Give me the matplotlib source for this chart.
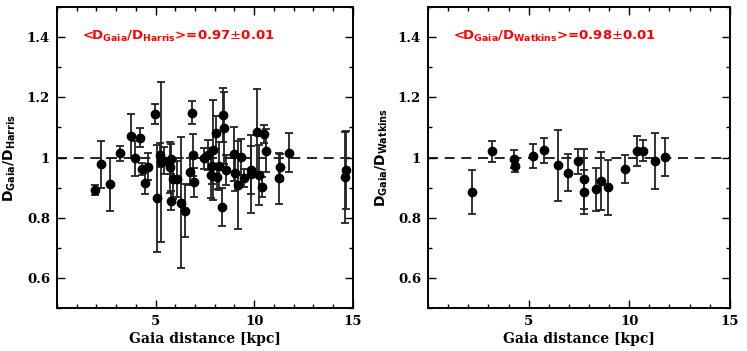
import matplotlib
matplotlib.use("Agg")
import matplotlib.pyplot as plt
from matplotlib.ticker import MultipleLocator, FormatStrFormatter

# Left panel: Gaia vs Harris
harris_x = [1.92, 2.22, 2.71, 3.22, 3.74, 3.96, 4.23, 4.31, 4.46, 4.61,
            4.98, 5.07, 5.24, 5.27, 5.44, 5.71, 5.77, 5.77, 5.88, 6.08,
            6.28, 6.47, 6.75, 6.92, 6.95, 6.87, 7.46, 7.68, 7.81, 7.88,
            7.90, 8.07, 8.13, 8.22, 8.35, 8.42, 8.45, 8.57, 8.97, 9.02,
            9.16, 9.31, 9.48, 9.82, 9.85, 10.15, 10.25, 10.37, 10.50, 10.59,
            11.25, 11.30, 11.77, 14.58, 14.67]
harris_y = [0.892, 0.977, 0.912, 1.014, 1.073, 0.997, 1.066, 0.962, 0.914, 0.970,
            1.144, 0.865, 1.008, 0.986, 0.990, 0.967, 0.994, 0.857, 0.928, 0.928,
            0.850, 0.824, 0.953, 1.008, 0.918, 1.149, 0.997, 1.008, 0.942, 0.972,
            1.025, 1.082, 0.934, 0.972, 0.837, 1.141, 1.097, 0.958, 1.012, 0.950,
            0.909, 1.003, 0.931, 0.958, 0.945, 1.086, 0.942, 0.903, 1.078, 1.023,
            0.931, 0.967, 1.016, 0.934, 0.958]
harris_err = [0.017, 0.077, 0.088, 0.025, 0.073, 0.057, 0.031, 0.020, 0.036, 0.045,
              0.032, 0.177, 0.040, 0.265, 0.045, 0.085, 0.050, 0.032, 0.065, 0.060,
              0.217, 0.088, 0.045, 0.069, 0.048, 0.037, 0.035, 0.050, 0.075, 0.060,
              0.167, 0.055, 0.040, 0.080, 0.063, 0.090, 0.120, 0.050, 0.090, 0.060,
              0.146, 0.060, 0.030, 0.080, 0.130, 0.140, 0.100, 0.033, 0.030, 0.070,
              0.085, 0.045, 0.064, 0.150, 0.130]

# Right panel: Gaia vs Watkins
watkins_x = [2.21, 3.20, 4.26, 4.31, 5.22, 5.78, 6.47, 6.95, 7.46, 7.77,
             7.74, 8.35, 8.58, 8.96, 9.80, 10.40, 10.66, 11.26, 11.78]
watkins_y = [0.885, 1.020, 0.995, 0.972, 1.004, 1.024, 0.974, 0.950, 0.987, 0.928,
             0.885, 0.894, 0.922, 0.901, 0.961, 1.023, 1.023, 0.987, 1.002]
watkins_err = [0.072, 0.034, 0.030, 0.020, 0.040, 0.041, 0.117, 0.062, 0.042, 0.100,
               0.073, 0.072, 0.096, 0.091, 0.046, 0.050, 0.035, 0.093, 0.064]

x_label = "Gaia distance [kpc]"
y_labels = [r"$\mathbf{D_{Gaia}/D_{Harris}}$", r"$\mathbf{D_{Gaia}/D_{Watkins}}$"]
notes = [r"<D$_{\mathbf{Gaia}}$/D$_{\mathbf{Harris}}$>=0.97$\pm$0.01",
         r"<D$_{\mathbf{Gaia}}$/D$_{\mathbf{Watkins}}$>=0.98$\pm$0.01"]

fig = plt.figure(figsize=(7.47, 3.51), dpi=100)
ax1 = fig.add_axes([0.0763, 0.1217, 0.396, 0.859])
ax2 = fig.add_axes([0.573, 0.1217, 0.404, 0.859])

datasets = [(harris_x, harris_y, harris_err), (watkins_x, watkins_y, watkins_err)]
for ax, (xs, ys, es), yl, note in zip([ax1, ax2], datasets, y_labels, notes):
    ax.axhline(1.0, color="black", lw=1.2, ls=(0, (6, 4)), zorder=1)
    ax.errorbar(xs, ys, yerr=es, fmt="o", color="black", ms=6,
                ecolor="#222222", elinewidth=1.3, capsize=3.2, capthick=1.3, zorder=3)
    ax.set_xlim(0, 15)
    ax.set_ylim(0.5, 1.5)
    ax.xaxis.set_major_locator(MultipleLocator(5))
    ax.xaxis.set_minor_locator(MultipleLocator(1))
    ax.yaxis.set_major_locator(MultipleLocator(0.2))
    ax.yaxis.set_minor_locator(MultipleLocator(0.1))
    ax.xaxis.set_major_formatter(FormatStrFormatter("%g"))
    ax.yaxis.set_major_formatter(FormatStrFormatter("%g"))
    ax.set_xticks([5, 10, 15])
    ax.set_yticks([0.6, 0.8, 1.0, 1.2, 1.4])
    ax.tick_params(which="both", direction="in", top=True, right=True, width=1.0)
    ax.tick_params(which="major", length=6, labelsize=9.5, pad=5)
    ax.tick_params(which="minor", length=3)
    for lab in ax.get_xticklabels() + ax.get_yticklabels():
        lab.set_fontweight("bold")
        lab.set_family("DejaVu Serif")
    for sp in ax.spines.values():
        sp.set_linewidth(1.4)
    ax.set_xlabel(x_label, fontsize=10, fontweight="bold", family="DejaVu Serif", labelpad=3)
    ax.set_ylabel(yl, fontsize=10, labelpad=6)
    ax.text(1.25, 1.4, note, color="red", fontsize=9.5, fontweight="bold",
            ha="left", va="center")

fig.savefig("out.png", dpi=100)
